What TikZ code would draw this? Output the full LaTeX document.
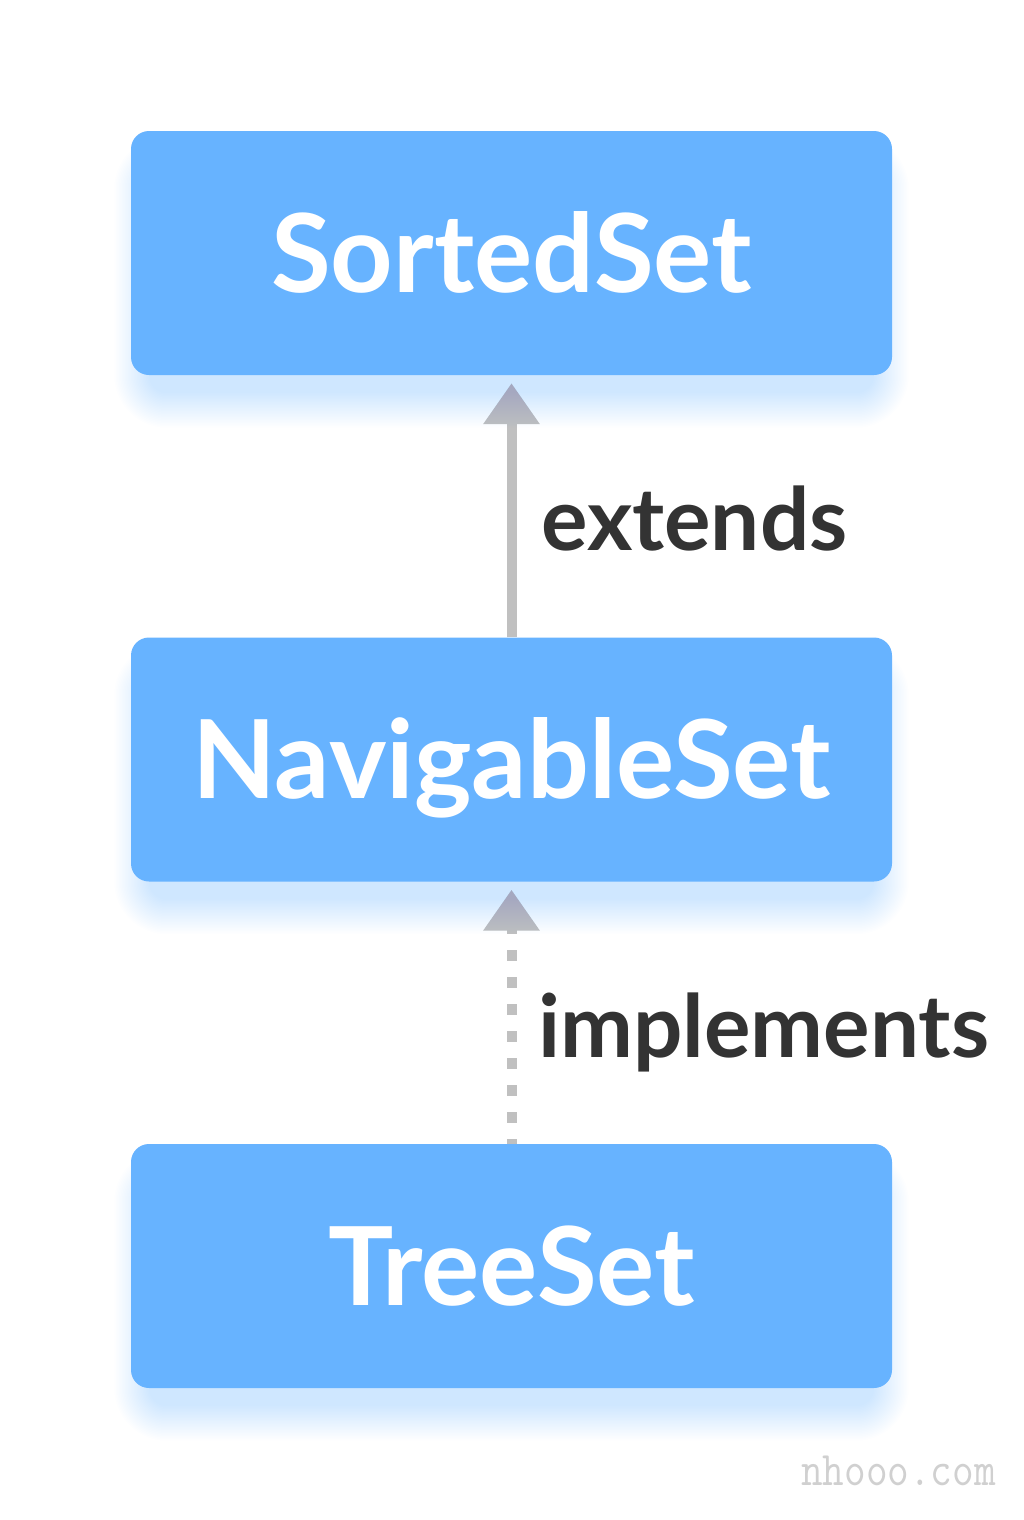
\documentclass[tikz,border=0pt]{standalone}
\usepackage{fontspec}
\setmainfont{Lato}
\usetikzlibrary{arrows.meta,calc}

\definecolor{boxblue}{RGB}{103,179,255}
\definecolor{glowblue}{RGB}{60,140,255}
\definecolor{linkgray}{RGB}{192,192,192}
\definecolor{labelink}{RGB}{51,51,51}
\definecolor{markgray}{RGB}{208,208,208}

\pgfdeclarelayer{paper}
\pgfdeclarelayer{links}
\pgfdeclarelayer{glow}
\pgfsetlayers{paper,links,glow,main}

\tikzset{
  classbox/.style={
    fill=boxblue, rounded corners=18pt, inner sep=0pt,
    minimum width=761pt, minimum height=244pt,
    text=white, text height=78pt, text depth=0pt,
    font=\fontsize{109}{109}\selectfont\bfseries
  },
  linklabel/.style={
    anchor=base west, inner sep=0pt, text=labelink,
    font=\fontsize{87}{87}\selectfont\bfseries
  },
  link/.style={
    draw=linkgray, line width=10pt, line cap=butt,
    shorten >=8pt,
    -{Triangle[length=41pt,width=54pt]}
  },
  solidlink/.style={link},
  dottedlink/.style={link, dash pattern=on 11pt off 16pt, dash phase=6pt}
}

% soft glow under a box: stacked translucent rounded rectangles
\newcommand\boxglow[1]{%
  \foreach \k in {0,...,23}{%
    \pgfmathsetmacro\r{1.5*\k}
    \fill[glowblue, opacity=0.008, rounded corners={18pt+\r pt}]
      ($(#1.north west)+(18-\r,40-\r)$) rectangle ($(#1.south east)+(-18+\r,18+\r)$);
  }%
}

\begin{document}
\begin{tikzpicture}[x=1pt,y=-1pt]
  \useasboundingbox (0,0) rectangle (1024,1520);
  \begin{pgfonlayer}{paper}
    \fill[white] (0,0) rectangle (1024,1520);
  \end{pgfonlayer}

  \node[classbox] (sorted) at (511.5,253)    {SortedSet};
  \node[classbox] (nav)    at (511.5,759.5)  {NavigableSet};
  \node[classbox] (tree)   at (511.5,1266)   {TreeSet};

  \begin{pgfonlayer}{links}
    \draw[solidlink]  (nav.north)  -- (sorted.south);
    \draw[dottedlink] (tree.north) -- (nav.south);
  \end{pgfonlayer}

  \begin{pgfonlayer}{glow}
    \boxglow{sorted}
    \boxglow{nav}
    \boxglow{tree}
  \end{pgfonlayer}

  \node[linklabel] (ext) at (541,550)  {extends};
  \node[linklabel] (imp) at (538,1057) {implements};

  \node[anchor=base east, inner sep=0pt, text=markgray, yscale=1.15,
        font=\ttfamily\fontsize{42}{42}\selectfont] (mark) at (996,1485) {nhooo.com};
\end{tikzpicture}
\end{document}
